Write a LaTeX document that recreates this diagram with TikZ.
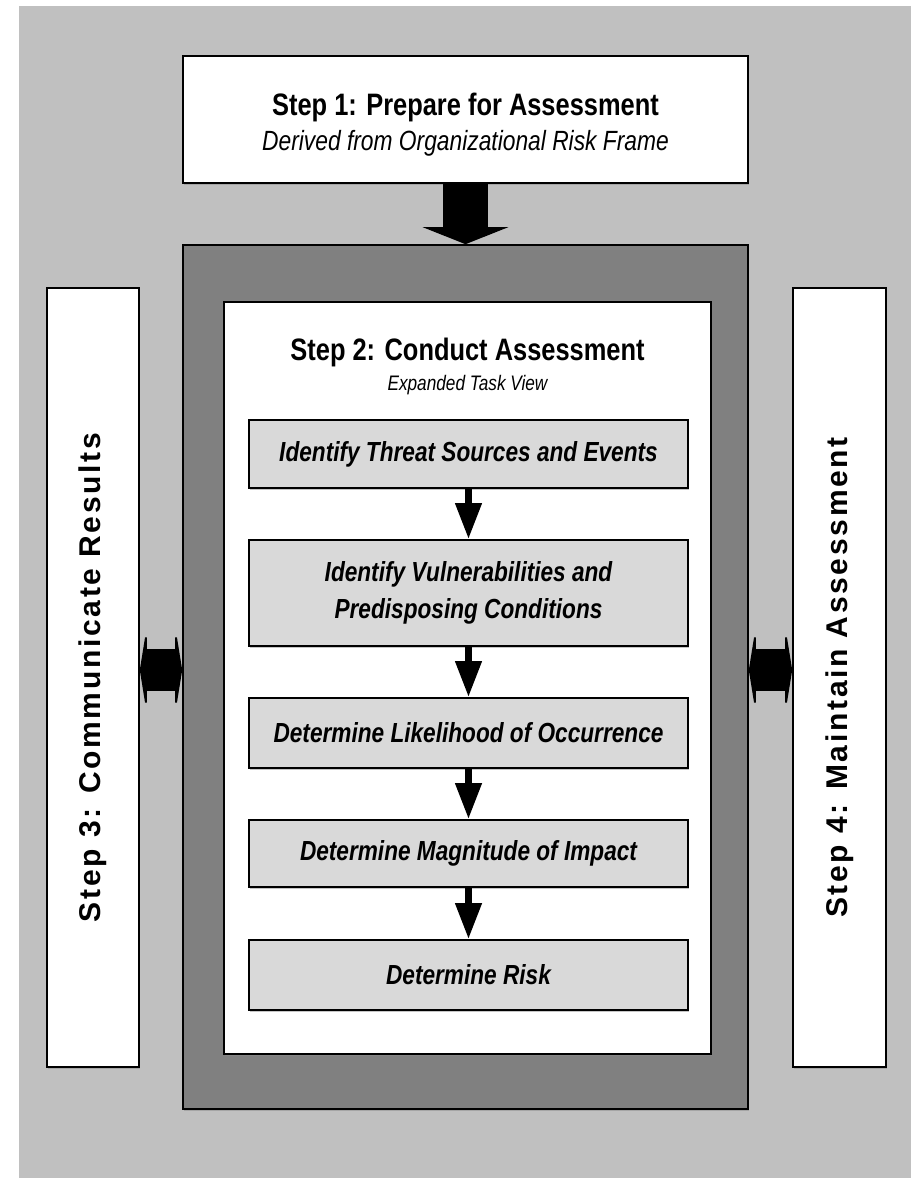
\documentclass[tikz,border=0pt]{standalone}
\usepackage{fontspec}
\usepackage{tikz}
\usetikzlibrary{arrows.meta,shadows}
\setmainfont{Liberation Sans}
\newfontfamily\narrowfont[FakeStretch=0.82]{Liberation Sans}
\newfontfamily\spacedfont[LetterSpace=9]{Liberation Sans}
\definecolor{bggray}{RGB}{192,192,192}
\definecolor{framegray}{RGB}{128,128,128}
\definecolor{taskgray}{RGB}{217,217,217}

\tikzset{
  boxline/.style={draw=black, line width=0.8pt,
    drop shadow={shadow xshift=0.6pt, shadow yshift=-0.8pt, fill=black!45}},
  sidebox/.style={boxline, fill=white, minimum width=46pt, minimum height=389.5pt,
    inner sep=0pt},
  taskbox/.style={boxline, fill=taskgray, minimum width=219.5pt, inner sep=0pt,
    align=center, font=\narrowfont\bfseries\itshape\fontsize{13.8}{18.5}\selectfont},
  bigarrow/.style={line width=22.5pt, -{Triangle[length=8.5pt,width=42.5pt]}},
  flowarrow/.style={line width=3.5pt, -{Triangle[length=18pt,width=12.5pt]}},
  dblarrow/.style={line width=21pt,
    {Triangle[length=3.5pt,width=43.5pt]}-{Triangle[length=3.5pt,width=43.5pt]}}
}

\begin{document}
\begin{tikzpicture}[x=0.5pt,y=-0.5pt]
  \useasboundingbox (0,0) rectangle (911,1178);
  % Background
  \fill[bggray] (19,6) rectangle (911,1178);

  % Step 1
  \node[boxline, fill=white, minimum width=282.5pt, minimum height=63.5pt, inner sep=0pt]
    (step1) at (465.5,119.5) {};
  \node (step1title) at (465.5,107) {\narrowfont\bfseries\fontsize{15.5}{17}\selectfont Step 1: Prepare for Assessment};
  \node (step1sub) at (465.5,143) {\narrowfont\itshape\fontsize{13.9}{15}\selectfont Derived from Organizational Risk Frame};

  % Step 2 frame
  \node[boxline, fill=framegray, minimum width=282.5pt, minimum height=432pt, inner sep=0pt]
    (outer) at (465.5,677) {};
  \node[boxline, fill=white, minimum width=243.5pt, minimum height=376pt, inner sep=0pt]
    (inner) at (467.5,678) {};
  \node (step2title) at (467.5,352) {\narrowfont\bfseries\fontsize{15.5}{17}\selectfont Step 2: Conduct Assessment};
  \node (step2sub) at (467.5,385) {\narrowfont\itshape\fontsize{10.5}{12}\selectfont Expanded Task View};

  % Tasks
  \node[taskbox, minimum height=34pt] (threat) at (468.5,454) {Identify Threat Sources and Events};
  \node[taskbox, minimum height=53pt] (vuln) at (468.5,593) {Identify Vulnerabilities and\\Predisposing Conditions};
  \node[taskbox, minimum height=35pt] (likely) at (468.5,733) {Determine Likelihood of Occurrence};
  \node[taskbox, minimum height=33.5pt] (impact) at (468.5,853.5) {Determine Magnitude of Impact};
  \node[taskbox, minimum height=35pt] (risk) at (468.5,975) {Determine Risk};

  % Step 3 and Step 4
  \node[sidebox] (step3) at (93,677.5) {};
  \node[rotate=90] (step3text) at (step3) {\spacedfont\bfseries\fontsize{15}{17}\selectfont Step 3: Communicate Results};
  \node[sidebox, minimum width=46.5pt] (step4) at (839.5,677.5) {};
  \node[rotate=90] (step4text) at (step4) {\spacedfont\bfseries\fontsize{15}{17}\selectfont Step 4: Maintain Assessment};

  % Arrows
  \draw[bigarrow] (step1.south) -- (outer.north);
  \draw[flowarrow] (threat.south) -- (vuln.north);
  \draw[flowarrow] (vuln.south) -- (likely.north);
  \draw[flowarrow] (likely.south) -- (impact.north);
  \draw[flowarrow] (impact.south) -- (risk.north);
  \coordinate (arrowrow) at (0,670);
  \draw[dblarrow] (step3.east |- arrowrow) -- (outer.west |- arrowrow);
  \draw[dblarrow] (outer.east |- arrowrow) -- (step4.west |- arrowrow);
\end{tikzpicture}
\end{document}
